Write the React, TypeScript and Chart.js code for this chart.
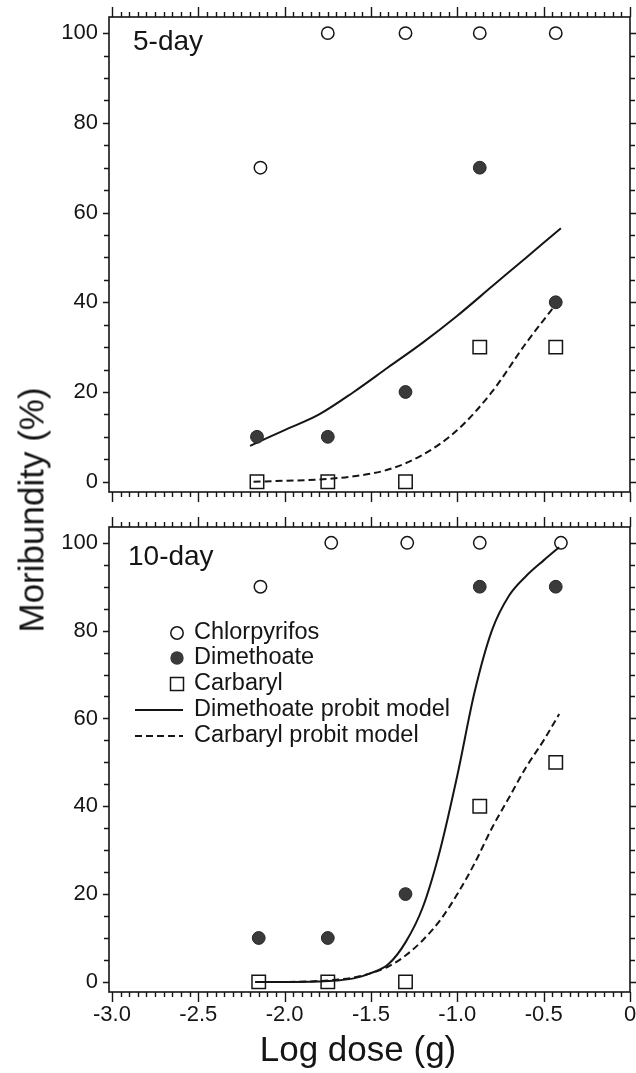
import React, { useEffect, useRef } from 'react';
import { Chart, registerables } from 'chart.js';

Chart.register(...registerables);

const FONT = "'Liberation Sans', Arial, Helvetica, sans-serif";
const INK = '#151515';
const DOT = '#3a3a3a';

// axis ticks
const xTickValues = [-3, -2.5, -2, -1.5, -1, -0.5, 0];
const xTickLabels = ['-3.0', '-2.5', '-2.0', '-1.5', '-1.0', '-0.5', '0'];
const yTickValues = [0, 20, 40, 60, 80, 100];
const yTickLabels = ['0', '20', '40', '60', '80', '100'];

// 5-day observations
const doses5 = [-2.16, -1.75, -1.3, -0.87, -0.43];
const chlorDoses5 = [-2.14, -1.75, -1.3, -0.87, -0.43];
const chlorpyrifos5 = [70, 100, 100, 100, 100];
const dimethoate5 = [10, 10, 20, 70, 40];
const carbaryl5 = [0, 0, 0, 30, 30];

// 5-day probit models
const dimModelX5 = [-2.2, -2.0, -1.8, -1.6, -1.4, -1.2, -1.0, -0.8, -0.6, -0.4];
const dimModel5 = [8, 11.5, 15, 20, 25.5, 31, 37, 43.5, 50, 56.5];
const carModelX5 = [-2.18, -2.0, -1.8, -1.6, -1.4, -1.2, -1.0, -0.8, -0.6, -0.43];
const carModel5 = [0, 0.2, 0.5, 1.2, 2.7, 6, 11.5, 20, 31, 39.5];

// 10-day observations
const doses10 = [-2.15, -1.75, -1.3, -0.87, -0.43];
const chlorDoses10 = [-2.14, -1.73, -1.29, -0.87, -0.4];
const chlorpyrifos10 = [90, 100, 100, 100, 100];
const dimethoate10 = [10, 10, 20, 90, 90];
const carbaryl10 = [0, 0, 0, 40, 50];

// 10-day probit models
const modelX10 = [-2.17, -2.0, -1.8, -1.7, -1.6, -1.5, -1.4, -1.3, -1.2, -1.1, -1.0, -0.9, -0.8, -0.7, -0.6, -0.5, -0.41];
const dimModel10 = [0, 0, 0.1, 0.3, 0.8, 2, 4, 9, 17, 30, 47, 66, 80, 88, 92.5, 96, 99];
const carModel10 = [0, 0, 0.2, 0.5, 1, 2, 3.5, 6, 9.5, 14, 20, 27, 35, 42, 49, 55, 61];

const legendLabels = ['Chlorpyrifos', 'Dimethoate', 'Carbaryl', 'Dimethoate probit model', 'Carbaryl probit model'];

const pts = (xs: number[], ys: number[]) => xs.map((x, i) => ({ x, y: ys[i] }));

const frameTicksPlugin = {
  id: 'frameTicks',
  afterDraw(chart: any) {
    const { ctx, chartArea } = chart;
    const { left, right, top, bottom } = chartArea;
    const xs = chart.scales.x;
    const ys = chart.scales.y;
    ctx.save();
    ctx.strokeStyle = INK;
    ctx.lineWidth = 1.4;
    ctx.beginPath();
    for (let i = 0; i <= 60; i++) {
      const v = -3 + i * 0.05;
      const px = Math.round(xs.getPixelForValue(v)) + 0.5;
      const len = i % 10 === 0 ? 10 : 5;
      ctx.moveTo(px, bottom);
      ctx.lineTo(px, bottom + len);
      ctx.moveTo(px, top);
      ctx.lineTo(px, top - len);
    }
    for (let i = 0; i <= 20; i++) {
      const v = i * 5;
      const py = Math.round(ys.getPixelForValue(v)) + 0.5;
      const len = i % 4 === 0 ? 6 : 5;
      ctx.moveTo(left, py);
      ctx.lineTo(left - len, py);
      ctx.moveTo(right, py);
      ctx.lineTo(right + len, py);
    }
    ctx.stroke();
    ctx.lineWidth = 1.6;
    ctx.strokeRect(left, top, right - left, bottom - top);
    ctx.restore();
  },
};

const panelLabelPlugin = {
  id: 'panelLabel',
  afterDraw(chart: any, _args: any, opts: any) {
    if (!opts || !opts.text) return;
    const { ctx, chartArea } = chart;
    ctx.save();
    ctx.fillStyle = INK;
    ctx.font = `28px ${FONT}`;
    ctx.textBaseline = 'alphabetic';
    ctx.textAlign = 'left';
    ctx.fillText(opts.text, chartArea.left + opts.dx, chartArea.top + opts.dy);
    ctx.restore();
  },
};

const innerLegendPlugin = {
  id: 'innerLegend',
  afterDraw(chart: any, _args: any, opts: any) {
    if (!opts || !opts.show) return;
    const { ctx, chartArea } = chart;
    const x0 = chartArea.left;
    const y0 = chartArea.top;
    const markerX = x0 + 68;
    const textX = x0 + 85;
    const rowY = [106, 131, 157, 183, 209].map((d) => y0 + d);
    ctx.save();
    ctx.strokeStyle = INK;
    ctx.lineWidth = 1.5;
    ctx.beginPath();
    ctx.arc(markerX, rowY[0], 6.2, 0, Math.PI * 2);
    ctx.stroke();
    ctx.beginPath();
    ctx.fillStyle = DOT;
    ctx.arc(markerX, rowY[1], 6.7, 0, Math.PI * 2);
    ctx.fill();
    ctx.strokeRect(markerX - 6.5, rowY[2] - 6.5, 13, 13);
    ctx.lineWidth = 2;
    ctx.beginPath();
    ctx.moveTo(x0 + 26, rowY[3]);
    ctx.lineTo(x0 + 74, rowY[3]);
    ctx.stroke();
    ctx.setLineDash([7, 4]);
    ctx.beginPath();
    ctx.moveTo(x0 + 26, rowY[4]);
    ctx.lineTo(x0 + 74, rowY[4]);
    ctx.stroke();
    ctx.setLineDash([]);
    ctx.fillStyle = INK;
    ctx.font = `23.5px ${FONT}`;
    ctx.textBaseline = 'middle';
    ctx.textAlign = 'left';
    legendLabels.forEach((t, i) => ctx.fillText(t, textX, rowY[i]));
    ctx.restore();
  },
};

function buildConfig(panel: 'top' | 'bottom'): any {
  const isTop = panel === 'top';
  const datasets = [
    {
      label: 'Chlorpyrifos',
      data: isTop ? pts(chlorDoses5, chlorpyrifos5) : pts(chlorDoses10, chlorpyrifos10),
      pointStyle: 'circle',
      pointRadius: 6.2,
      pointBorderWidth: 1.5,
      pointBorderColor: INK,
      pointBackgroundColor: 'rgba(0,0,0,0)',
      showLine: false,
    },
    {
      label: 'Dimethoate',
      data: isTop ? pts(doses5, dimethoate5) : pts(doses10, dimethoate10),
      pointStyle: 'circle',
      pointRadius: 6.4,
      pointBorderWidth: 1,
      pointBorderColor: '#262626',
      pointBackgroundColor: DOT,
      showLine: false,
    },
    {
      label: 'Carbaryl',
      data: isTop ? pts(doses5, carbaryl5) : pts(doses10, carbaryl10),
      pointStyle: 'rect',
      pointRadius: 9.5,
      pointBorderWidth: 1.5,
      pointBorderColor: INK,
      pointBackgroundColor: 'rgba(0,0,0,0)',
      showLine: false,
    },
    {
      label: 'Dimethoate probit model',
      data: isTop ? pts(dimModelX5, dimModel5) : pts(modelX10, dimModel10),
      showLine: true,
      pointRadius: 0,
      borderColor: INK,
      borderWidth: 2,
      cubicInterpolationMode: 'monotone',
    },
    {
      label: 'Carbaryl probit model',
      data: isTop ? pts(carModelX5, carModel5) : pts(modelX10, carModel10),
      showLine: true,
      pointRadius: 0,
      borderColor: INK,
      borderWidth: 2,
      borderDash: [7, 4],
      cubicInterpolationMode: 'monotone',
    },
  ];

  return {
    type: 'scatter',
    data: { datasets },
    plugins: [frameTicksPlugin, panelLabelPlugin, innerLegendPlugin],
    options: {
      animation: false,
      responsive: false,
      maintainAspectRatio: false,
      layout: { autoPadding: false, padding: { left: 49, right: 0, top: isTop ? 17 : 22, bottom: 0 } },
      plugins: {
        legend: { display: false },
        tooltip: { enabled: false },
        panelLabel: isTop ? { text: '5-day', dx: 24, dy: 33 } : { text: '10-day', dx: 19, dy: 38 },
        innerLegend: { show: !isTop },
      },
      scales: {
        x: {
          type: 'linear',
          position: 'bottom',
          min: -3.017,
          max: 0,
          afterBuildTicks: (scale: any) => {
            scale.ticks = xTickValues.map((value) => ({ value }));
          },
          afterFit: (scale: any) => {
            scale.height = isTop ? 13 : 81;
            scale.paddingLeft = 0;
            scale.paddingRight = 0;
            scale.paddingTop = 0;
            scale.paddingBottom = 0;
          },
          grid: { display: false, drawTicks: false },
          border: { display: false },
          ticks: {
            display: !isTop,
            maxRotation: 0,
            autoSkip: false,
            padding: 10,
            color: INK,
            font: { family: FONT, size: 22 },
            callback: (_v: any, i: number) => xTickLabels[i],
          },
        },
        y: {
          type: 'linear',
          position: 'left',
          min: -2.3,
          max: 103.6,
          afterBuildTicks: (scale: any) => {
            scale.ticks = yTickValues.map((value) => ({ value }));
          },
          afterFit: (scale: any) => {
            scale.width = 60;
            scale.paddingLeft = 0;
            scale.paddingRight = 0;
            scale.paddingTop = 0;
            scale.paddingBottom = 0;
          },
          grid: { display: false, drawTicks: false },
          border: { display: false },
          ticks: {
            padding: 11,
            color: INK,
            font: { family: FONT, size: 22 },
            callback: (_v: any, i: number) => yTickLabels[i],
          },
        },
        yr: {
          type: 'linear',
          axis: 'y',
          position: 'right',
          min: -2.3,
          max: 103.6,
          afterFit: (scale: any) => {
            scale.width = 6;
            scale.paddingTop = 0;
            scale.paddingBottom = 0;
          },
          grid: { display: false, drawTicks: false },
          border: { display: false },
          ticks: { display: false },
        },
      },
    },
  };
}

function Panel({ panel, top, height }: { panel: 'top' | 'bottom'; top: number; height: number }) {
  const ref = useRef<HTMLCanvasElement | null>(null);
  useEffect(() => {
    if (!ref.current) return;
    const chart = new Chart(ref.current, buildConfig(panel));
    return () => chart.destroy();
  }, [panel]);
  return (
    <canvas
      ref={ref}
      width={636}
      height={height}
      style={{ position: 'absolute', left: 0, top, width: 636, height }}
    />
  );
}

export default function App() {
  return (
    <div
      style={{
        position: 'absolute',
        left: 0,
        top: 0,
        width: 636,
        height: 1073,
        background: '#ffffff',
        overflow: 'hidden',
        fontFamily: FONT,
      }}
    >
      <Panel panel="top" top={0} height={505} />
      <Panel panel="bottom" top={505} height={568} />
      <div
        style={{
          position: 'absolute',
          left: 31,
          top: 510,
          transform: 'translate(-50%, -50%) rotate(-90deg)',
          whiteSpace: 'nowrap',
          fontSize: 35,
          lineHeight: 1,
          color: INK,
          fontFamily: FONT,
        }}
      >
        Moribundity (%)
      </div>
      <div
        style={{
          position: 'absolute',
          left: 358,
          top: 1048,
          transform: 'translate(-50%, -50%)',
          whiteSpace: 'nowrap',
          fontSize: 35,
          lineHeight: 1,
          color: INK,
          fontFamily: FONT,
        }}
      >
        Log dose (g)
      </div>
    </div>
  );
}
